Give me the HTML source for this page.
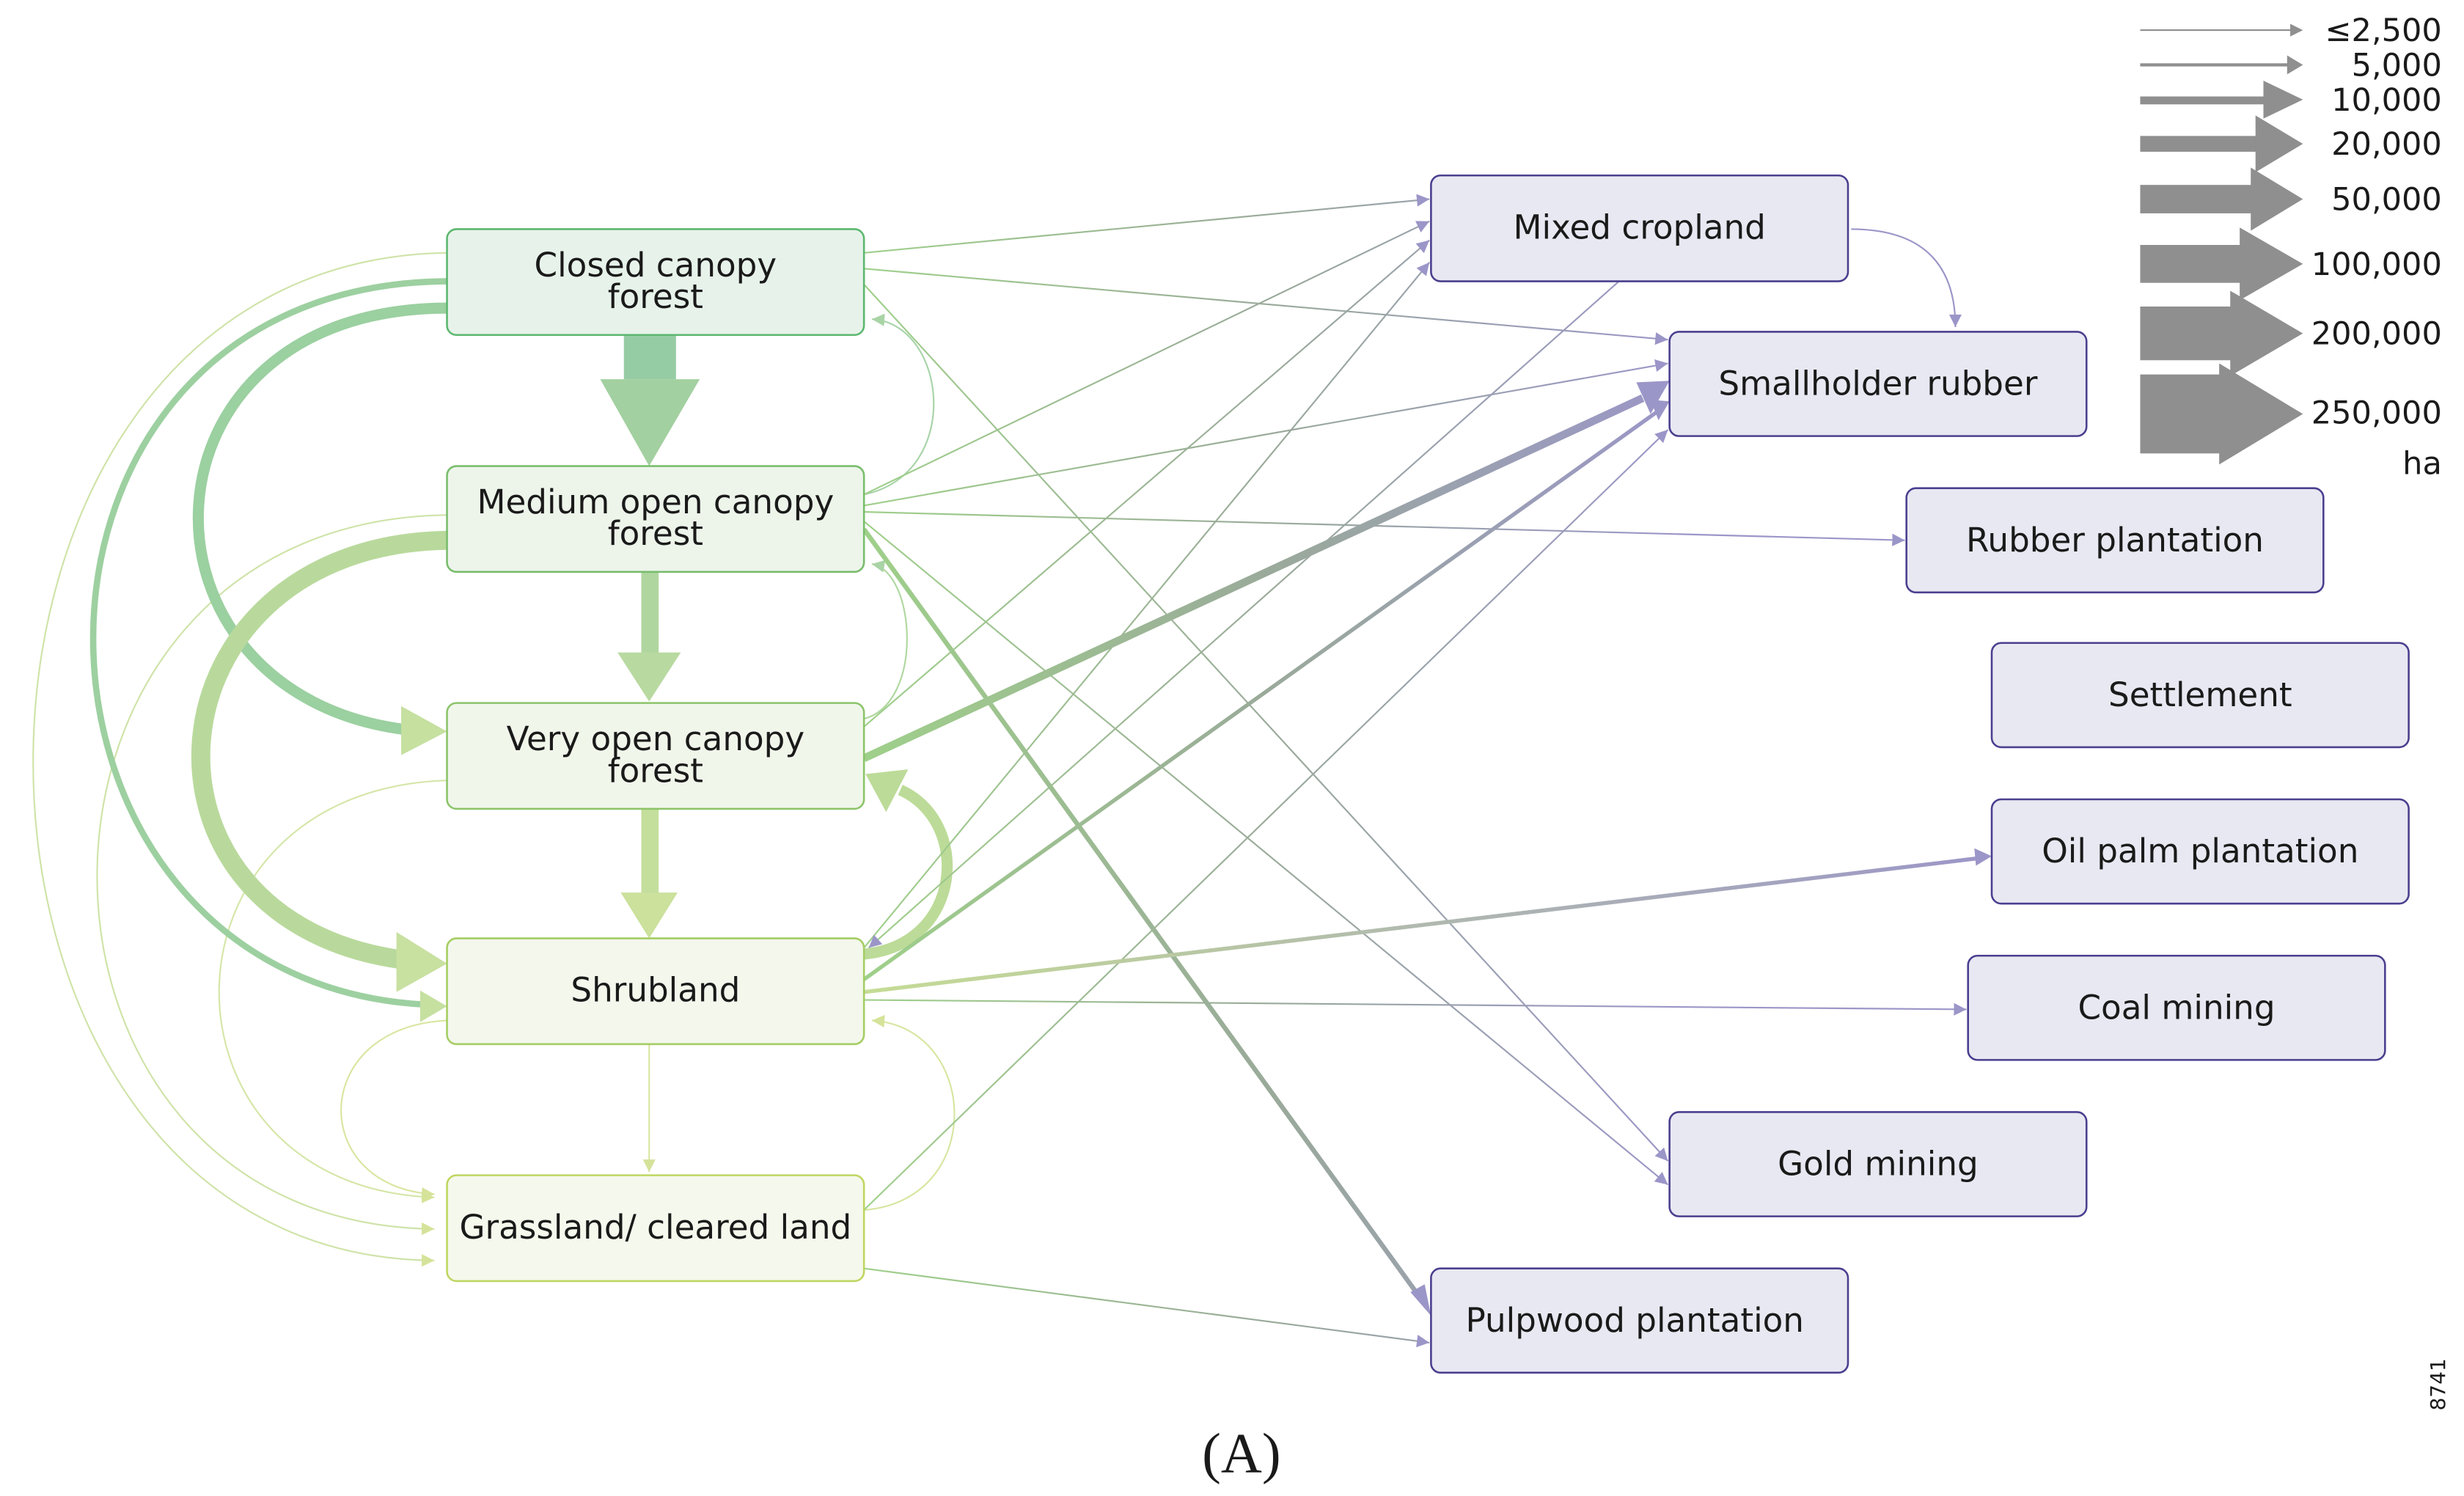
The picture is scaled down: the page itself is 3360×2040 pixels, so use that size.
<!DOCTYPE html>
<html><head><meta charset="utf-8"><style>
html,body{margin:0;padding:0;background:#fff;}
svg{display:block;}
text{font-family:"DejaVu Sans","Liberation Sans",sans-serif;fill:#1a1a1a;}
</style></head><body>
<svg width="3360" height="2040" viewBox="0 0 1560 947" xmlns="http://www.w3.org/2000/svg">
<defs>
<linearGradient id="g" gradientUnits="userSpaceOnUse" x1="547" y1="0" x2="1060" y2="0">
<stop offset="0" stop-color="#9fd08a"/><stop offset="0.5" stop-color="#9aaa9a"/><stop offset="1" stop-color="#9b96c8"/></linearGradient>
<linearGradient id="g2" gradientUnits="userSpaceOnUse" x1="547" y1="0" x2="1260" y2="0">
<stop offset="0" stop-color="#c5dc95"/><stop offset="1" stop-color="#9b96c8"/></linearGradient>
<marker id="ap" viewBox="0 0 10 10" refX="10" refY="5" markerWidth="8" markerHeight="8" markerUnits="userSpaceOnUse" orient="auto"><path d="M0,0L10,5L0,10z" fill="#9b96c8"/></marker>
<marker id="ag" viewBox="0 0 10 10" refX="10" refY="5" markerWidth="8" markerHeight="8" markerUnits="userSpaceOnUse" orient="auto"><path d="M0,0L10,5L0,10z" fill="#a9d4a5"/></marker>
<marker id="ay" viewBox="0 0 10 10" refX="10" refY="5" markerWidth="8" markerHeight="8" markerUnits="userSpaceOnUse" orient="auto"><path d="M0,0L10,5L0,10z" fill="#d5e39a"/></marker>
</defs>

<!-- left curves -->
<g fill="none">
<path d="M283,160 C-65,165 -65,795 275,798" stroke="#cfe3a8" stroke-width="1" marker-end="url(#ay)"/>
<path d="M283,326 C-11,330 -11,775 275,778" stroke="#cfe3a8" stroke-width="1" marker-end="url(#ay)"/>
<path d="M283,494 C92,500 92,752 275,758" stroke="#d5e6a8" stroke-width="1" marker-end="url(#ay)"/>
<path d="M283,646 C195,650 195,752 275,756" stroke="#d8e6a0" stroke-width="1" marker-end="url(#ay)"/>
<path d="M283,178 C-17,180 -10,622 270,636" stroke="#9dd0a0" stroke-width="4"/>
<path d="M283,195 C80,195 75,440 258,462" stroke="#9bd0a0" stroke-width="7"/>
<path d="M283,342 C90,345 70,585 258,608" stroke="#b9d99c" stroke-width="12"/>
<path d="M547,313 C610,300 600,205 552,202" stroke="#a8d4a8" stroke-width="1" marker-end="url(#ag)"/>
<path d="M547,455 C585,445 580,362 552,357" stroke="#b0d8a0" stroke-width="1" marker-end="url(#ag)"/>
<path d="M547,766 C625,760 620,650 552,646" stroke="#d6e6a0" stroke-width="1" marker-end="url(#ay)"/>
<path d="M547,604 C610,598 615,520 570,500" stroke="#bcdb98" stroke-width="7"/>
<line x1="411" y1="661" x2="411" y2="742" stroke="#d8e6a0" stroke-width="1" marker-end="url(#ay)"/>
</g>
<polygon points="254,447 283,463 254,478" fill="#c6e0a0"/>
<polygon points="266,627 283,637 266,647" fill="#c6e0a0"/>
<polygon points="251,590 283,610 251,628" fill="#c8e0a0"/>
<polygon points="548,490 575,487 561,514" fill="#bcdb98"/>
<!-- vertical arrows -->
<rect x="395" y="212" width="33" height="28" fill="#96cca4"/>
<polygon points="380,240 443,240 411,295" fill="#a3d0a0"/>
<rect x="406" y="362" width="11" height="52" fill="#b0d6a0"/>
<polygon points="391,413 431,413 411,444" fill="#b8d9a0"/>
<rect x="406" y="512" width="11" height="54" fill="#c4de9c"/>
<polygon points="393,565 429,565 411,594" fill="#cbe19c"/>

<!-- right connectors -->
<g fill="none" stroke="url(#g)" stroke-width="1">
<line x1="547" y1="160" x2="905" y2="126" marker-end="url(#ap)"/>
<line x1="547" y1="170" x2="1056" y2="215" marker-end="url(#ap)"/>
<line x1="547" y1="180" x2="1056" y2="735" marker-end="url(#ap)"/>
<line x1="547" y1="313" x2="905" y2="140" marker-end="url(#ap)"/>
<line x1="547" y1="320" x2="1056" y2="230" marker-end="url(#ap)"/>
<line x1="547" y1="324" x2="1206" y2="342" marker-end="url(#ap)"/>
<line x1="547" y1="330" x2="1056" y2="750" marker-end="url(#ap)"/>
<line x1="547" y1="460" x2="905" y2="152" marker-end="url(#ap)"/>
<line x1="547" y1="600" x2="905" y2="166" marker-end="url(#ap)"/>
<line x1="1025" y1="178" x2="550" y2="600" marker-end="url(#ap)"/>
<line x1="547" y1="633" x2="1245" y2="639" marker-end="url(#ap)"/>
<line x1="547" y1="766" x2="1056" y2="272" marker-end="url(#ap)"/>
<line x1="547" y1="803" x2="905" y2="850" marker-end="url(#ap)"/>
<path d="M1172,145 C1220,145 1238,170 1238,207" marker-end="url(#ap)" stroke="#9b96c8"/>
<line x1="547" y1="335" x2="898" y2="820" stroke-width="3"/>
<line x1="547" y1="480" x2="1040" y2="252" stroke-width="5"/>
<line x1="547" y1="620" x2="1050" y2="260" stroke-width="2.5"/>
<line x1="547" y1="628" x2="1255" y2="543" stroke="url(#g2)" stroke-width="2.5"/>
</g>
<polygon points="893,818 906,833 902,813" fill="#9b96c8"/>
<polygon points="1036,242 1057,241 1045,262" fill="#9b96c8"/>
<polygon points="1045,253 1057,254 1050,266" fill="#9b96c8"/>
<polygon points="1250,537 1261,542 1251,548" fill="#9b96c8"/>

<!-- left boxes -->
<g stroke-width="1.2">
<rect x="283" y="145" width="264" height="67" rx="6" fill="#e7f3ea" stroke="#5db76f"/>
<rect x="283" y="295" width="264" height="67" rx="6" fill="#edf5eb" stroke="#79bd6c"/>
<rect x="283" y="445" width="264" height="67" rx="6" fill="#f1f6eb" stroke="#8cc46a"/>
<rect x="283" y="594" width="264" height="67" rx="6" fill="#f3f7ec" stroke="#a5cd62"/>
<rect x="283" y="744" width="264" height="67" rx="6" fill="#f5f8ec" stroke="#bed660"/>
</g>
<g font-size="21" text-anchor="middle">
<text x="415" y="175">Closed canopy</text><text x="415" y="195">forest</text>
<text x="415" y="325">Medium open canopy</text><text x="415" y="345">forest</text>
<text x="415" y="475">Very open canopy</text><text x="415" y="495">forest</text>
<text x="415" y="634">Shrubland</text>
<text x="415" y="784">Grassland/ cleared land</text>
</g>
<!-- right boxes -->
<g fill="#e8e8f2" stroke="#4a3f8f" stroke-width="1.2">
<rect x="906" y="111" width="264" height="67" rx="6"/>
<rect x="1057" y="210" width="264" height="66" rx="6"/>
<rect x="1207" y="309" width="264" height="66" rx="6"/>
<rect x="1261" y="407" width="264" height="66" rx="6"/>
<rect x="1261" y="506" width="264" height="66" rx="6"/>
<rect x="1246" y="605" width="264" height="66" rx="6"/>
<rect x="1057" y="704" width="264" height="66" rx="6"/>
<rect x="906" y="803" width="264" height="66" rx="6"/>
</g>
<g font-size="21" text-anchor="middle">
<text x="1038" y="151">Mixed cropland</text>
<text x="1189" y="250">Smallholder rubber</text>
<text x="1339" y="349">Rubber plantation</text>
<text x="1393" y="447">Settlement</text>
<text x="1393" y="546">Oil palm plantation</text>
<text x="1378" y="645">Coal mining</text>
<text x="1189" y="744">Gold mining</text>
<text x="1035" y="843">Pulpwood plantation</text>
</g>

<!-- legend -->
<g fill="#8f8f8f">
<rect x="1355" y="18.5" width="96" height="1"/><polygon points="1450,15 1458,19 1450,23"/>
<rect x="1355" y="40" width="96" height="2"/><polygon points="1448,35 1458,41 1448,47"/>
<rect x="1355" y="61" width="80" height="5"/><polygon points="1433,51 1458,63 1433,75"/>
<rect x="1355" y="86" width="75" height="10"/><polygon points="1428,73 1458,91 1428,109"/>
<rect x="1355" y="117" width="72" height="18"/><polygon points="1425,106 1458,126 1425,146"/>
<rect x="1355" y="155" width="65" height="24"/><polygon points="1418,144 1458,167 1418,190"/>
<rect x="1355" y="194" width="60" height="34"/><polygon points="1412,184 1458,211 1412,238"/>
<rect x="1355" y="237" width="52" height="50" /><polygon points="1405,230 1458,262 1405,294"/>
</g>
<g font-size="20" text-anchor="end">
<text x="1546" y="26">≤2,500</text>
<text x="1546" y="48">5,000</text>
<text x="1546" y="70">10,000</text>
<text x="1546" y="98">20,000</text>
<text x="1546" y="133">50,000</text>
<text x="1546" y="174">100,000</text>
<text x="1546" y="218">200,000</text>
<text x="1546" y="268">250,000</text>
<text x="1546" y="300">ha</text>
</g>
<text x="0" y="0" font-size="13" transform="translate(1548,893) rotate(-90)">8741</text>
<text x="786" y="932" font-size="36" text-anchor="middle" style="font-family:'Liberation Serif',serif">(A)</text>
</svg>
</body></html>
